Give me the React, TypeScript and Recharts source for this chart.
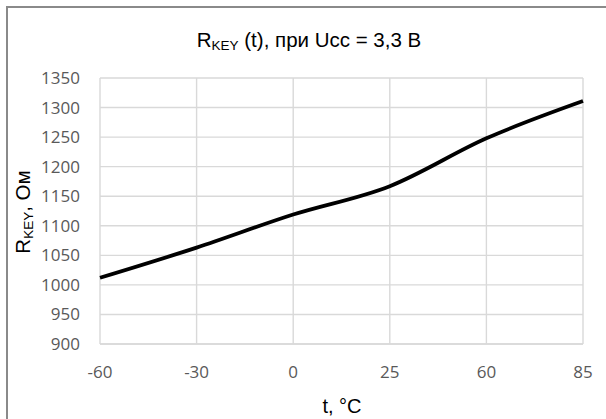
import React from "react"
import {
  LineChart,
  Line,
  XAxis,
  YAxis,
  CartesianGrid,
} from "recharts"

// температура, °C
const temps = ["-60", "-30", "0", "25", "60", "85"]
// сопротивление ключа, Ом
const rKey = [1012, 1063, 1119, 1167, 1248, 1311]
const yTicks = [900, 950, 1000, 1050, 1100, 1150, 1200, 1250, 1300, 1350]

const data = temps.map((t, i) => ({ t, r: rKey[i] }))

const W = 606
const H = 419
const TICK_FONT = "'Open Sans', 'DejaVu Sans', sans-serif"
const TITLE_FONT = "'Liberation Sans', Arial, sans-serif"

export default function App() {
  return (
    <div
      style={{
        position: "absolute",
        left: 0,
        top: 0,
        width: W,
        height: H,
        overflow: "hidden",
        background: "#fff",
      }}
    >
      {/* рамка области диаграммы (обрезана справа и снизу) */}
      <div
        style={{
          position: "absolute",
          left: 6,
          top: 6,
          width: 800,
          height: 800,
          borderLeft: "2px solid #8a8a8a",
          borderTop: "2px solid #8a8a8a",
        }}
      />

      <div style={{ position: "absolute", left: 0, top: 0 }}>
        <LineChart
          width={W}
          height={H}
          data={data}
          margin={{ top: 78, right: 23, bottom: 0, left: 0 }}
        >
          <CartesianGrid stroke="#d9d9d9" strokeWidth={1.4} />
          <XAxis
            dataKey="t"
            height={75}
            axisLine={{ stroke: "#d9d9d9", strokeWidth: 1.4 }}
            tickLine={false}
            tickSize={0}
            tickMargin={22}
            interval={0}
            tick={{ fill: "#595959", fontSize: 17, fontFamily: TICK_FONT }}
          />
          <YAxis
            width={100}
            domain={[900, 1350]}
            ticks={yTicks}
            axisLine={false}
            tickLine={false}
            tickSize={0}
            tickMargin={20}
            interval={0}
            tick={{ fill: "#595959", fontSize: 17, fontFamily: TICK_FONT }}
          />
          <Line
            type="monotone"
            dataKey="r"
            stroke="#000"
            strokeWidth={3.8}
            dot={false}
            isAnimationActive={false}
          />
        </LineChart>
      </div>

      {/* заголовки */}
      <svg
        width={W}
        height={H}
        style={{ position: "absolute", left: 0, top: 0, pointerEvents: "none" }}
        fontFamily={TITLE_FONT}
      >
        <text x={309} y={47} textAnchor="middle" fontSize={20.5} fill="#000">
          R
          <tspan fontSize={13.5} dy={3}>KEY</tspan>
          <tspan dy={-3}> (t), при Ucc = 3,3 В</tspan>
        </text>
        <text
          transform="translate(30, 212) rotate(-90)"
          textAnchor="middle"
          fontSize={20.5}
          fill="#000"
        >
          R
          <tspan fontSize={13.5} dy={3}>KEY</tspan>
          <tspan dy={-3}>, Ом</tspan>
        </text>
        <text x={342} y={413} textAnchor="middle" fontSize={20} fill="#000">
          t, °C
        </text>
      </svg>
    </div>
  )
}
